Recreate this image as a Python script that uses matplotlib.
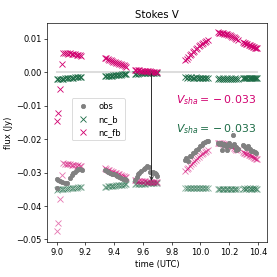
import numpy as np
import matplotlib
matplotlib.use("Agg")
import matplotlib.pyplot as plt

# ---- data ----
t_model = [
    9.000, 9.011, 9.023, 9.035, 9.047, 9.058, 9.070, 9.081, 9.093, 9.105, 9.116, 9.128, 9.140, 9.151, 9.163, 9.172,
    9.335, 9.345, 9.355, 9.365, 9.375, 9.385, 9.395, 9.405, 9.415, 9.425, 9.435, 9.445, 9.455, 9.465, 9.475, 9.485,
    9.545, 9.555, 9.566, 9.576, 9.587, 9.597, 9.607, 9.618, 9.628, 9.638, 9.649, 9.659, 9.669, 9.680, 9.690, 9.700,
    9.895, 9.905, 9.916, 9.926, 9.936, 9.947, 9.957, 9.967, 9.978, 9.988, 9.998, 10.009, 10.019, 10.029, 10.040, 10.050,
    10.120, 10.129, 10.139, 10.148, 10.157, 10.167, 10.176, 10.185, 10.195, 10.204, 10.213, 10.223, 10.232, 10.241, 10.251, 10.260,
    10.295, 10.303, 10.311, 10.319, 10.327, 10.335, 10.343, 10.351, 10.359, 10.367, 10.375, 10.383, 10.390, 10.396,
]
nc_b = [
    -0.0021, -0.0020, -0.0020, -0.0019, -0.0019, -0.0018, -0.0018, -0.0017, -0.0017, -0.0016, -0.0016, -0.0015, -0.0015, -0.0014, -0.0014, -0.0013,
    -0.0012, -0.0012, -0.0011, -0.0011, -0.0010, -0.0010, -0.0009, -0.0009, -0.0008, -0.0008, -0.0007, -0.0007, -0.0006, -0.0006, -0.0005, -0.0004,
    -0.0004, -0.0004, -0.0004, -0.0003, -0.0003, -0.0003, -0.0003, -0.0003, -0.0002, -0.0002, -0.0002, -0.0002, -0.0002, -0.0002, -0.0001, -0.0001,
    -0.0015, -0.0016, -0.0015, -0.0016, -0.0015, -0.0016, -0.0016, -0.0015, -0.0016, -0.0016, -0.0017, -0.0016, -0.0016, -0.0017, -0.0016, -0.0017,
    -0.0019, -0.0018, -0.0019, -0.0019, -0.0018, -0.0019, -0.0019, -0.0018, -0.0019, -0.0019, -0.0018, -0.0019, -0.0019, -0.0018, -0.0019, -0.0019,
    -0.0018, -0.0017, -0.0018, -0.0018, -0.0017, -0.0018, -0.0017, -0.0018, -0.0018, -0.0017, -0.0018, -0.0017, -0.0018, -0.0018,
]
nc_fb = [
    -0.0146, -0.0122, -0.0049, 0.0024, 0.0058, 0.0057, 0.0057, 0.0055, 0.0056, 0.0054, 0.0053, 0.0053, 0.0051, 0.0052, 0.0050, 0.0049,
    0.0043, 0.0041, 0.0039, 0.0037, 0.0035, 0.0033, 0.0031, 0.0030, 0.0028, 0.0026, 0.0025, 0.0023, 0.0021, 0.0020, 0.0018, 0.0016,
    0.0007, 0.0007, 0.0006, 0.0006, 0.0005, 0.0005, 0.0004, 0.0004, 0.0003, 0.0003, 0.0003, 0.0002, 0.0002, 0.0002, 0.0001, 0.0001,
    0.0035, 0.0040, 0.0045, 0.0050, 0.0055, 0.0060, 0.0064, 0.0069, 0.0073, 0.0077, 0.0081, 0.0084, 0.0088, 0.0091, 0.0094, 0.0096,
    0.0119, 0.0118, 0.0118, 0.0117, 0.0116, 0.0115, 0.0114, 0.0113, 0.0111, 0.0110, 0.0108, 0.0106, 0.0104, 0.0101, 0.0098, 0.0096,
    0.0090, 0.0088, 0.0087, 0.0085, 0.0084, 0.0082, 0.0081, 0.0079, 0.0078, 0.0076, 0.0075, 0.0073, 0.0072, 0.0071,
]
t_obs = [
    9.000, 9.004, 9.012, 9.025, 9.040, 9.058, 9.075, 9.092, 9.104, 9.116, 9.127, 9.140, 9.150, 9.162, 9.174,
    9.335, 9.348, 9.360, 9.373, 9.385, 9.398, 9.410, 9.423, 9.435, 9.448, 9.460, 9.473, 9.485,
    9.545, 9.556, 9.566, 9.576, 9.590, 9.605, 9.615, 9.630, 9.642, 9.652, 9.662, 9.672, 9.682, 9.694, 9.700,
    9.891, 9.903, 9.915, 9.926, 9.938, 9.950, 9.961, 9.973, 9.985, 9.996, 10.008, 10.020, 10.031, 10.043, 10.053,
    10.120, 10.132, 10.143, 10.150, 10.155, 10.167, 10.178, 10.185, 10.190, 10.202, 10.213, 10.226, 10.237, 10.245, 10.250, 10.260,
    10.295, 10.305, 10.318, 10.330, 10.342, 10.354, 10.366, 10.378, 10.390,
]
obs = [
    -0.0347, -0.0320, -0.0322, -0.0326, -0.0329, -0.0331, -0.0330, -0.0317, -0.0307, -0.0300, -0.0297, -0.0293, -0.0290, -0.0290, -0.0292,
    -0.0292, -0.0295, -0.0298, -0.0300, -0.0303, -0.0305, -0.0308, -0.0310, -0.0313, -0.0315, -0.0318, -0.0320, -0.0322,
    -0.0322, -0.0312, -0.0305, -0.0300, -0.0295, -0.0290, -0.0285, -0.0281, -0.0283, -0.0297, -0.0302, -0.0298, -0.0300, -0.0304, -0.0310,
    -0.0262, -0.0257, -0.0265, -0.0252, -0.0250, -0.0242, -0.0240, -0.0232, -0.0230, -0.0222, -0.0218, -0.0213, -0.0210, -0.0207, -0.0205,
    -0.0212, -0.0214, -0.0212, -0.0232, -0.0217, -0.0215, -0.0220, -0.0234, -0.0217, -0.0213, -0.0220, -0.0187, -0.0215, -0.0234, -0.0225, -0.0230,
    -0.0217, -0.0222, -0.0227, -0.0222, -0.0230, -0.0237, -0.0235, -0.0240, -0.0242,
]
v_sha_fb = -0.033
v_sha_b = -0.033
arrow_time = 9.66

c_fb = "#d1006f"
c_b = "#1b6b45"

t_model = np.array(t_model)
nc_b = np.array(nc_b)
nc_fb = np.array(nc_fb)

fig = plt.figure(figsize=(277 / 60.5, 277 / 60.5), dpi=60.5)
ax = fig.add_axes([0.171, 0.127, 0.792, 0.790])

ax.plot([t_model.min(), t_model.max()], [0, 0], color="#dddddd", lw=2.4, zorder=0)

ax.plot(t_obs, obs, "o", color="gray", ms=5, label="obs", zorder=2)
ax.plot(t_model, nc_b + v_sha_b, "x", color=c_b, alpha=0.55, ms=6, zorder=1)
ax.plot(t_model, nc_fb + v_sha_fb, "x", color=c_fb, alpha=0.55, ms=6, zorder=1)
ax.plot(t_model, nc_b, "x", color=c_b, ms=6, label="nc_b", zorder=3)
ax.plot(t_model, nc_fb, "x", color=c_fb, ms=6, label="nc_fb", zorder=3)

ax.annotate("", xy=(arrow_time, v_sha_fb), xytext=(arrow_time, 0),
            arrowprops=dict(arrowstyle="->", color="#222222", lw=1.1), zorder=4)


def vlabel(v):
    sign = "-" if v < 0 else ""
    return r"$V_{sha} = {}" + sign + "{}" + f"{abs(v):.3f}$"


ax.text(9.83, -0.0082, vlabel(v_sha_fb), color=c_fb, fontsize=13, va="center")
ax.text(9.83, -0.0169, vlabel(v_sha_b), color=c_b, fontsize=13, va="center")

ax.set_xlim(8.935, 10.462)
ax.set_ylim(-0.0507, 0.0147)
ax.set_xticks([9.0, 9.2, 9.4, 9.6, 9.8, 10.0, 10.2, 10.4])
ax.set_yticks([0.01, 0.0, -0.01, -0.02, -0.03, -0.04, -0.05])
ax.set_yticklabels(["0.01", "0.00", "\u22120.01", "\u22120.02", "\u22120.03", "\u22120.04", "\u22120.05"])
ax.set_xlabel("time (UTC)")
ax.set_ylabel("flux (Jy)")
ax.set_title("Stokes V")
ax.legend(loc="upper left", bbox_to_anchor=(0.111, 0.656), borderaxespad=0)

fig.savefig("out.png", dpi=60.5)
